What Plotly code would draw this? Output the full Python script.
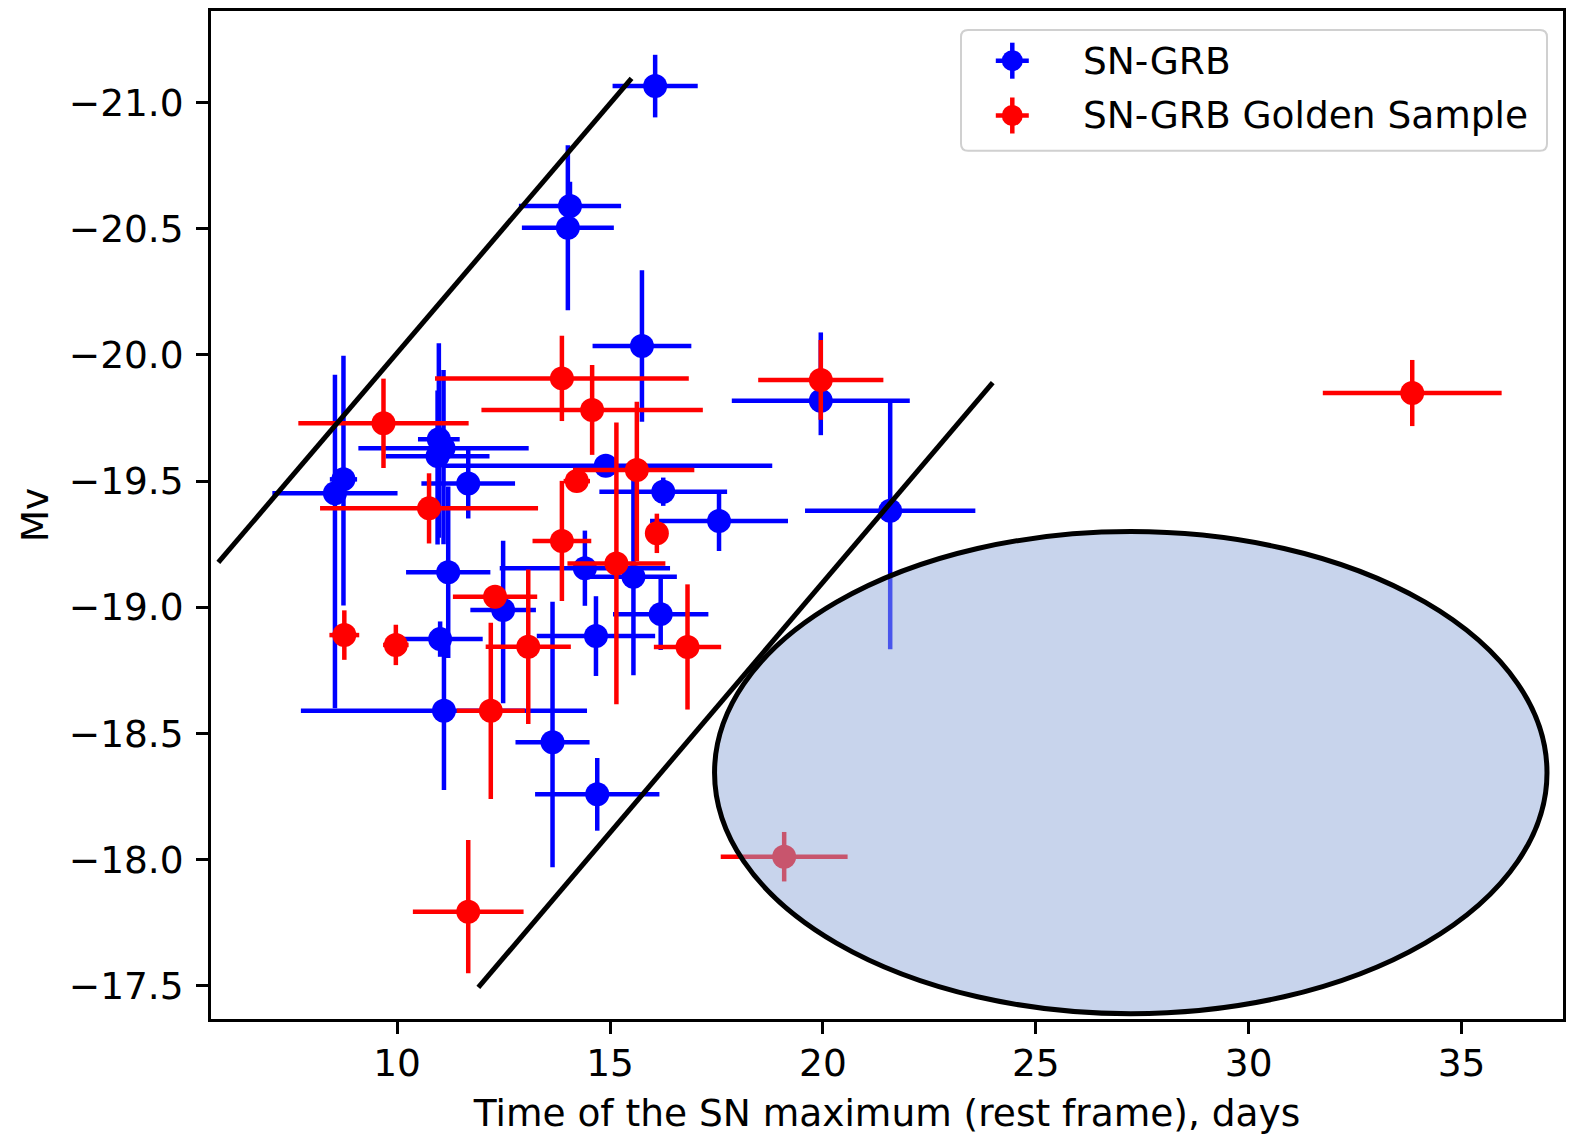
import plotly.graph_objects as go

# ---------------- data ----------------
# SN-GRB (blue)
grb_x = [16.06, 14.06, 14.01, 15.75, 19.95, 21.58, 14.90, 16.25, 17.56, 14.41,
         15.55, 16.19, 14.67, 12.49, 11.01, 11.20, 11.10, 13.65, 14.70, 11.67,
         10.98, 11.09, 10.95, 8.74, 8.54]
grb_y = [-21.065, -20.59, -20.504, -20.035, -19.818, -19.383, -19.561, -19.458, -19.342, -19.155,
         -19.121, -18.973, -18.886, -18.989, -18.874, -19.139, -18.59, -18.465, -18.259, -19.491,
         -19.666, -19.630, -19.599, -19.507, -19.452]
grb_xerr_lo = [1.0, 1.2, 1.08, 1.16, 2.09, 2.0, 3.82, 1.5, 1.62, 2.0,
               1.02, 1.12, 1.39, 0.77, 1.0, 0.99, 3.36, 0.87, 1.46, 1.1,
               0.49, 2.0, 1.22, 0.32, 1.47]
grb_xerr_hi = [1.0, 1.2, 1.08, 1.16, 2.09, 2.0, 3.91, 1.5, 1.62, 2.0,
               1.02, 1.12, 1.39, 0.77, 1.0, 0.99, 3.36, 0.87, 1.46, 1.1,
               0.49, 2.0, 1.22, 0.32, 1.47]
# brighter side (more negative Mv) / fainter side
grb_yerr_bright = [0.124, 0.096, 0.327, 0.30, 0.271, 0.439, 0.03, 0.056, 0.119, 0.149,
                   0.39, 0.142, 0.158, 0.275, 0.07, 0.34, 0.314, 0.557, 0.144, 0.139,
                   0.38, 0.31, 0.26, 0.49, 0.469]
grb_yerr_faint = [0.124, 0.096, 0.327, 0.30, 0.136, 0.549, 0.03, 0.056, 0.119, 0.149,
                  0.39, 0.142, 0.158, 0.369, 0.07, 0.34, 0.314, 0.495, 0.144, 0.139,
                  0.39, 0.38, 0.35, 0.50, 0.852]

# SN-GRB Golden Sample (red)
gold_x = [9.68, 10.75, 8.76, 9.97, 12.30, 12.20, 13.08, 11.67, 19.09, 13.87,
          14.58, 14.22, 13.87, 15.63, 15.15, 16.10, 16.82, 19.95, 33.84]
gold_y = [-19.729, -19.392, -18.89, -18.851, -19.042, -18.59, -18.844, -17.794, -18.012, -19.907,
          -19.782, -19.50, -19.263, -19.544, -19.174, -19.293, -18.843, -19.901, -19.849]
gold_xerr_lo = [2.0, 2.56, 0.35, 0.3, 0.99, 0.8, 1.0, 1.3, 1.49, 2.98,
                2.6, 0.31, 0.69, 1.5, 1.15, 0.2, 0.79, 1.47, 2.1]
gold_xerr_hi = [2.0, 2.56, 0.35, 0.3, 0.99, 0.8, 1.0, 1.3, 1.49, 2.98,
                2.6, 0.31, 0.69, 1.35, 1.15, 0.2, 0.79, 1.47, 2.1]
gold_yerr_bright = [0.177, 0.139, 0.098, 0.08, 0.04, 0.349, 0.306, 0.284, 0.098, 0.169,
                    0.178, 0.04, 0.238, 0.27, 0.558, 0.078, 0.248, 0.158, 0.131]
gold_yerr_faint = [0.177, 0.139, 0.098, 0.08, 0.04, 0.349, 0.306, 0.244, 0.098, 0.169,
                   0.178, 0.04, 0.238, 0.36, 0.558, 0.078, 0.248, 0.158, 0.131]

# boundary lines
line1_x = [5.801, 15.505]
line1_y = [-19.178, -21.096]
line2_x = [11.907, 23.988]
line2_y = [-17.494, -19.890]

# ellipse (center, full width, full height)
ell_cx, ell_cy = 27.23, -18.345
ell_w, ell_h = 19.55, 1.91

# axes
x_range = [5.629, 37.381]
y_range = [-17.369, -21.3625]
x_tick_vals = [10, 15, 20, 25, 30, 35]
x_tick_text = ["10", "15", "20", "25", "30", "35"]
y_tick_vals = [-21.0, -20.5, -20.0, -19.5, -19.0, -18.5, -18.0, -17.5]
y_tick_text = ["\u221221.0", "\u221220.5", "\u221220.0", "\u221219.5", "\u221219.0",
               "\u221218.5", "\u221218.0", "\u221217.5"]

legend_labels = ["SN-GRB", "SN-GRB Golden Sample"]
legend_colors = ["#0000ff", "#ff0000"]

# ---------------- style ----------------
FONT = "DejaVu Sans"
FS = 37.5
W, H = 1571, 1135
ML, MR, MT, MB = 211, 8, 11, 116
PW, PH = W - ML - MR, H - MT - MB


def px2paper(px, py):
    return (px - ML) / PW, 1 - (py - MT) / PH


def err_trace(x, y, xlo, xhi, ybright, yfaint, color, name):
    return go.Scatter(
        x=x, y=y, mode="markers", name=name, showlegend=False,
        marker=dict(color=color, size=24, line=dict(width=0)),
        error_x=dict(type="data", symmetric=False, array=xhi, arrayminus=xlo,
                     color=color, thickness=4.5, width=0),
        error_y=dict(type="data", symmetric=False, array=yfaint, arrayminus=ybright,
                     color=color, thickness=4.5, width=0),
        hoverinfo="x+y",
    )


fig = go.Figure()
fig.add_trace(err_trace(grb_x, grb_y, grb_xerr_lo, grb_xerr_hi,
                        grb_yerr_bright, grb_yerr_faint, legend_colors[0], legend_labels[0]))
fig.add_trace(err_trace(gold_x, gold_y, gold_xerr_lo, gold_xerr_hi,
                        gold_yerr_bright, gold_yerr_faint, legend_colors[1], legend_labels[1]))
for lx, ly in [(line1_x, line1_y), (line2_x, line2_y)]:
    fig.add_trace(go.Scatter(x=lx, y=ly, mode="lines", showlegend=False,
                             line=dict(color="black", width=5), hoverinfo="skip"))

shapes = []
# ellipse on top of data
shapes.append(dict(type="circle", xref="x", yref="y", layer="above",
                   x0=ell_cx - ell_w / 2, x1=ell_cx + ell_w / 2,
                   y0=ell_cy - ell_h / 2, y1=ell_cy + ell_h / 2,
                   fillcolor="rgba(146,170,218,0.5)",
                   line=dict(color="black", width=5)))

# manual legend box (rounded)
lx0, lyt = px2paper(961, 30)
lx1, lyb = px2paper(1547, 150.7)
rx, ry = 7 / PW, 7 / PH
path = (f"M {lx0+rx},{lyt} L {lx1-rx},{lyt} Q {lx1},{lyt} {lx1},{lyt-ry} "
        f"L {lx1},{lyb+ry} Q {lx1},{lyb} {lx1-rx},{lyb} L {lx0+rx},{lyb} "
        f"Q {lx0},{lyb} {lx0},{lyb+ry} L {lx0},{lyt-ry} Q {lx0},{lyt} {lx0+rx},{lyt} Z")
shapes.append(dict(type="path", xref="paper", yref="paper", path=path, layer="above",
                   fillcolor="rgba(255,255,255,0.8)", line=dict(color="#d0d0d0", width=2)))

annotations = []
legend_rows_py = [60.7, 115.5]
for lab, col, rpy in zip(legend_labels, legend_colors, legend_rows_py):
    mx, my = px2paper(1012.3, rpy)
    shapes.append(dict(type="line", xref="paper", yref="paper", layer="above",
                       xsizemode="pixel", ysizemode="pixel", xanchor=mx, yanchor=my,
                       x0=-16.5, x1=16.5, y0=0, y1=0, line=dict(color=col, width=4.5)))
    shapes.append(dict(type="line", xref="paper", yref="paper", layer="above",
                       xsizemode="pixel", ysizemode="pixel", xanchor=mx, yanchor=my,
                       x0=0, x1=0, y0=-18, y1=18, line=dict(color=col, width=4.5)))
    shapes.append(dict(type="circle", xref="paper", yref="paper", layer="above",
                       xsizemode="pixel", ysizemode="pixel", xanchor=mx, yanchor=my,
                       x0=-10.5, x1=10.5, y0=-10.5, y1=10.5,
                       fillcolor=col, line=dict(width=0)))
    tx, ty = px2paper(1081, rpy)
    annotations.append(dict(xref="paper", yref="paper", x=tx, y=ty, text=lab,
                            showarrow=False, xanchor="left", yanchor="middle",
                            font=dict(family=FONT, size=FS, color="black")))

axis_common = dict(showgrid=False, zeroline=False, showline=True, mirror=True,
                   linecolor="black", linewidth=2.7, ticks="outside", ticklen=12,
                   tickwidth=2.7, tickcolor="black", automargin=False,
                   tickfont=dict(family=FONT, size=FS, color="black"))

fig.update_layout(
    width=W, height=H,
    margin=dict(l=ML, r=MR, t=MT, b=MB, pad=0, autoexpand=False),
    paper_bgcolor="white", plot_bgcolor="white",
    showlegend=False,
    shapes=shapes, annotations=annotations,
    xaxis=dict(range=x_range, tickmode="array", tickvals=x_tick_vals, ticktext=x_tick_text,
               title=dict(text="Time of the SN maximum (rest frame), days",
                          font=dict(family=FONT, size=FS, color="black"), standoff=17),
               ticklabelstandoff=-3, **axis_common),
    yaxis=dict(range=y_range, tickmode="array", tickvals=y_tick_vals, ticktext=y_tick_text,
               title=dict(text="Mv", font=dict(family=FONT, size=FS, color="black"), standoff=9),
               ticklabelstandoff=5, **axis_common),
)

fig.write_html("out.html")
